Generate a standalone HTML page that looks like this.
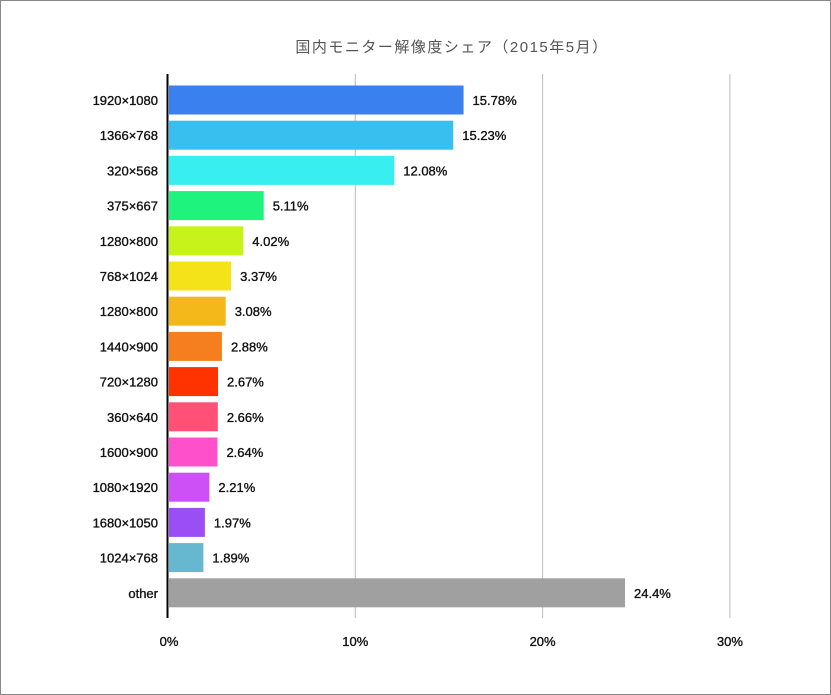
<!DOCTYPE html>
<html><head><meta charset="utf-8"><style>
body{margin:0;background:#fff}
svg{display:block;font-family:"Liberation Sans","Noto Sans CJK JP",sans-serif}
.lb{stroke:#111;stroke-width:0.35}
</style></head><body>
<svg id="c" width="831" height="695">
<rect x="0.5" y="0.5" width="830" height="694" fill="#fff" stroke="#888"/>
<text x="452" y="52" text-anchor="middle" font-size="15" fill="#555" letter-spacing="1.5">国内モニター解像度シェア（2015年5月）</text>
<g id="grid"></g><g id="bars"></g>
</svg>
<script>
const categories=["1920×1080","1366×768","320×568","375×667","1280×800","768×1024","1280×800","1440×900","720×1280","360×640","1600×900","1080×1920","1680×1050","1024×768","other"];
const values=[15.78,15.23,12.08,5.11,4.02,3.37,3.08,2.88,2.67,2.66,2.64,2.21,1.97,1.89,24.4];
const valueLabels=["15.78%","15.23%","12.08%","5.11%","4.02%","3.37%","3.08%","2.88%","2.67%","2.66%","2.64%","2.21%","1.97%","1.89%","24.4%"];
const colors=["#3a80ee","#38bff0","#38eeee","#1ef37e","#c8f31a","#f5e31a","#f5b81a","#f57f1e","#ff3300","#ff5075","#ff50cc","#cc50f5","#9a4ff5","#66b8d0","#a0a0a0"];
const ticks=[0,10,20,30];
const tickLabels=["0%","10%","20%","30%"];
const NS="http://www.w3.org/2000/svg";
const x0=168,pxPer=18.73,y0=100,step=35.2,bh=29;
const xs=v=>x0+v*pxPer, ys=i=>y0+i*step;
function mk(t,a,p){const e=document.createElementNS(NS,t);for(const k in a)e.setAttribute(k,a[k]);p.appendChild(e);return e;}
const g=document.getElementById('grid'),b=document.getElementById('bars');
ticks.forEach((t,i)=>{
 if(t>0){const l=mk('line',{x1:xs(t),x2:xs(t),y1:74,y2:618,stroke:'#bbb','stroke-width':1},g);
 
 }
 const tx=mk('text',{x:xs(t)+(t==0?1:0),y:646,'text-anchor':'middle','font-size':13,fill:'#111',class:'lb'},g);
 tx.textContent=tickLabels[i];
 
 
});
categories.forEach((c,i)=>{
 const r=mk('rect',{x:x0+1,y:ys(i)-bh/2,width:Math.max(0,xs(values[i])-x0-1),height:bh,fill:colors[i]},b);
 
 
 const l=mk('text',{x:158,y:ys(i)+5,'text-anchor':'end','font-size':13,fill:'#111',class:'lb'},b);
 l.textContent=c;
 
 
 const v=mk('text',{x:xs(values[i])+9,y:ys(i)+5,'font-size':13,fill:'#111',class:'lb'},b);
 v.textContent=valueLabels[i];
 
 
});
const ax=mk('line',{x1:167.5,x2:167.5,y1:74,y2:618,stroke:'#000','stroke-width':2},b);


</script>
</body></html>
